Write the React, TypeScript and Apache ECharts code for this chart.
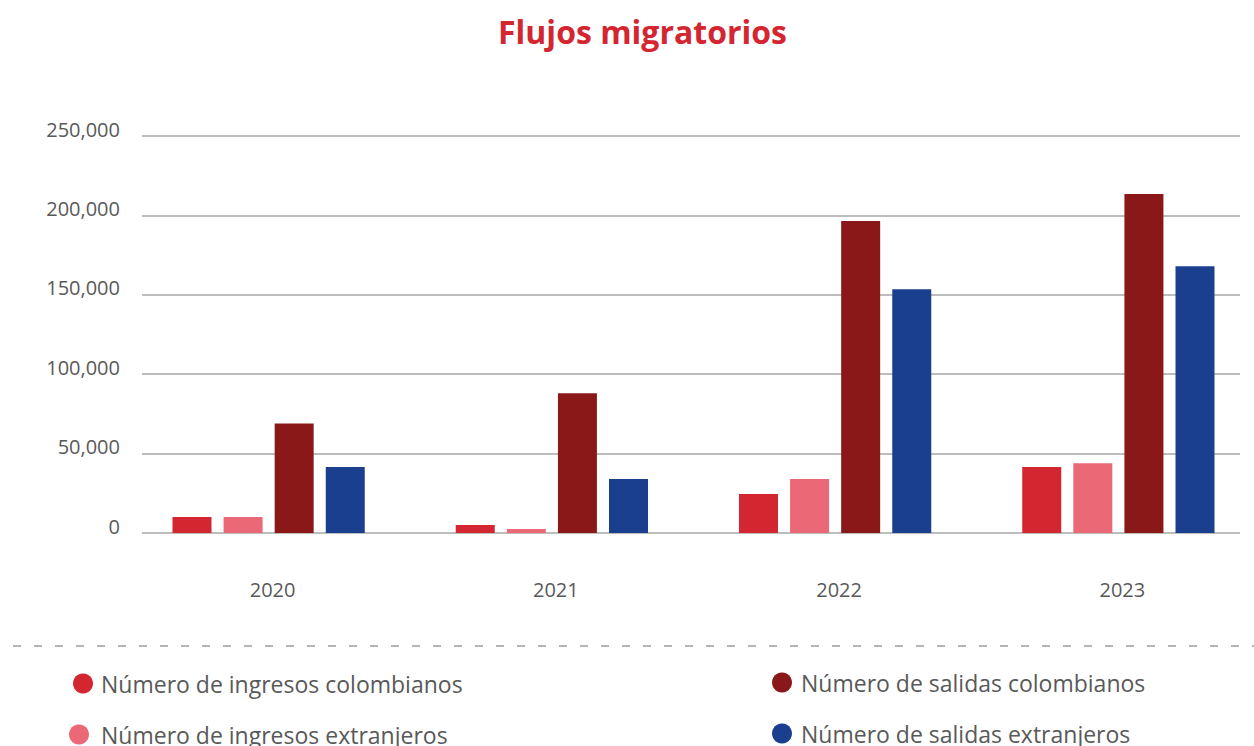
import React, { useEffect, useRef } from "react";
import * as echarts from "echarts";

const years = ["2020", "2021", "2022", "2023"];
const ingresosColombianos = [10000, 5000, 24500, 41500];
const ingresosExtranjeros = [10000, 2500, 34000, 44000];
const salidasColombianos = [69000, 88000, 196500, 213500];
const salidasExtranjeros = [41500, 34000, 153500, 168000];
const seriesNames = [
  "Número de ingresos colombianos",
  "Número de ingresos extranjeros",
  "Número de salidas colombianos",
  "Número de salidas extranjeros",
];
const colors = ["#D42631", "#EB6977", "#8B1819", "#1B3F8F"];

const FONT = "'Open Sans', 'Noto Sans', sans-serif";
const TXT = "#595959";
const CW = 1270;

export default function App() {
  const ref = useRef<HTMLDivElement>(null);
  useEffect(() => {
    document.body.style.margin = "0";
    const chart = echarts.init(ref.current!, null, { renderer: "svg" });
    const values = [ingresosColombianos, ingresosExtranjeros, salidasColombianos, salidasExtranjeros];
    const legendPos = [
      { left: 73, top: 672, pad: 3 },
      { left: 69, top: 723, pad: 7 },
      { left: 772, top: 671, pad: 4 },
      { left: 772, top: 722, pad: 4 },
    ];
    chart.setOption({
      animation: false,
      textStyle: { fontFamily: FONT },
      title: {
        text: "Flujos migratorios",
        left: 493,
        top: 10,
        textStyle: { color: "#D42631", fontSize: 32, fontWeight: "bold", fontFamily: FONT },
      },
      legend: legendPos.map((p, i) => ({
        data: [seriesNames[i]],
        left: p.left,
        top: p.top,
        icon: "circle",
        itemWidth: 20,
        itemHeight: 20,
        padding: 0,
        selectedMode: false,
        textStyle: { color: TXT, fontSize: 23, fontFamily: FONT, padding: [0, 0, 0, p.pad] },
      })),
      grid: [
        { left: 142, right: CW - 1240, top: 136, bottom: 213, containLabel: false },
        { left: 127, right: CW - 1260, top: 136, bottom: 213, containLabel: false },
      ],
      xAxis: [
        { type: "category", gridIndex: 0, data: years, show: false },
        {
          type: "category",
          gridIndex: 1,
          data: years,
          axisLine: { show: false },
          axisTick: { show: false },
          axisLabel: {
            color: TXT,
            fontSize: 20,
            fontFamily: FONT,
            margin: 46,
            padding: [0, 0, 0, 8],
          },
        },
      ],
      yAxis: [
        {
          type: "value",
          gridIndex: 0,
          min: 0,
          max: 250000,
          interval: 50000,
          axisLine: { show: false },
          axisTick: { show: false },
          splitLine: { show: true, lineStyle: { color: "#BDBDBD", width: 2 } },
          axisLabel: {
            color: TXT,
            fontSize: 20,
            fontFamily: FONT,
            margin: 22,
            verticalAlign: "bottom",
            lineHeight: 14,
            formatter: (v: number) => v.toLocaleString("en-US"),
          },
        },
        { type: "value", gridIndex: 1, min: 0, max: 250000, show: false, splitLine: { show: false } },
      ],
      series: values.map((d, i) => ({
        name: seriesNames[i],
        type: "bar",
        xAxisIndex: 1,
        yAxisIndex: 1,
        data: d,
        barWidth: 39,
        barGap: "31%",
        itemStyle: { color: colors[i] },
      })),
      graphic: [
        {
          type: "line",
          shape: { x1: 13, y1: 646, x2: 1254, y2: 646 },
          style: { stroke: "#B5B5B5", lineWidth: 2, lineDash: [8, 13] },
        },
      ],
    });
    return () => chart.dispose();
  }, []);
  return (
    <div
      style={{
        position: "fixed",
        left: 0,
        top: 0,
        width: 1254,
        height: 746,
        overflow: "hidden",
        background: "#fff",
      }}
    >
      <div ref={ref} style={{ width: CW, height: 746 }} />
    </div>
  );
}
